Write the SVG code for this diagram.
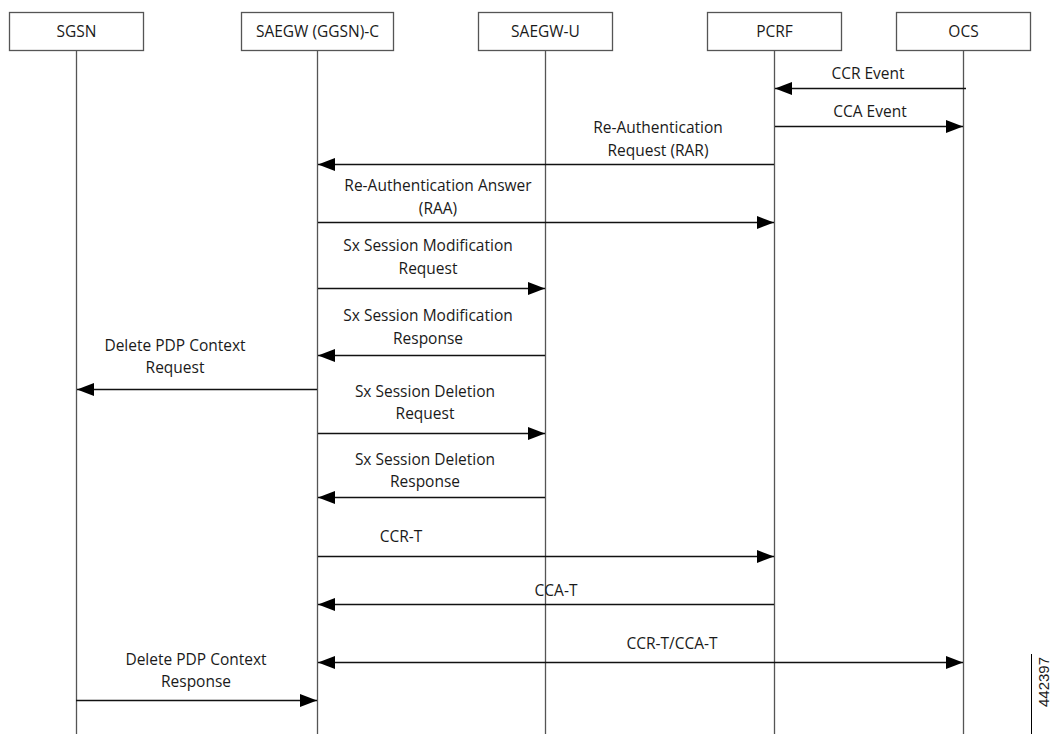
<svg xmlns="http://www.w3.org/2000/svg" width="1053" height="734" viewBox="0 0 1053 734">
<style>
.box{fill:#fff;stroke:#555;stroke-width:1.3}
.life{stroke:#555;stroke-width:1.3;fill:none}
.msg{stroke:#111;stroke-width:1.3;fill:none}
text{font-family:"Open Sans","Liberation Sans",sans-serif;font-size:15.5px;fill:#1a1a1a;text-anchor:middle}
</style>
<defs>
<marker id="ah" viewBox="0 0 17 13" refX="17" refY="6.5" markerWidth="17" markerHeight="13" markerUnits="userSpaceOnUse" orient="auto-start-reverse">
<path d="M0,0 L17,6.5 L0,13 Z" fill="#000"/>
</marker>
</defs>
<rect width="1053" height="734" fill="#fff"/>
<g id="node-sgsn"><rect class="box" x="9.5" y="12.5" width="134" height="38"/><text x="76.5" y="37">SGSN</text><line class="life" x1="76.5" y1="50.5" x2="76.5" y2="734"/></g>
<g id="node-saegwc"><rect class="box" x="241.5" y="12.5" width="152" height="38"/><text x="317.5" y="37">SAEGW (GGSN)-C</text><line class="life" x1="317.5" y1="50.5" x2="317.5" y2="734"/></g>
<g id="node-saegwu"><rect class="box" x="478.5" y="12.5" width="134" height="38"/><text x="545.5" y="37">SAEGW-U</text><line class="life" x1="545.5" y1="50.5" x2="545.5" y2="734"/></g>
<g id="node-pcrf"><rect class="box" x="707.5" y="12.5" width="134" height="38"/><text x="774.5" y="37">PCRF</text><line class="life" x1="774.5" y1="50.5" x2="774.5" y2="734"/></g>
<g id="node-ocs"><rect class="box" x="896.5" y="12.5" width="134" height="38"/><text x="963.5" y="37">OCS</text><line class="life" x1="963.5" y1="50.5" x2="963.5" y2="734"/></g>
<g id="connectors">
<line class="msg" x1="966" y1="88.5" x2="775" y2="88.5" marker-end="url(#ah)"/>
<line class="msg" x1="775" y1="126.5" x2="963" y2="126.5" marker-end="url(#ah)"/>
<line class="msg" x1="774" y1="164.5" x2="318" y2="164.5" marker-end="url(#ah)"/>
<line class="msg" x1="318" y1="222.5" x2="774" y2="222.5" marker-end="url(#ah)"/>
<line class="msg" x1="318" y1="288.5" x2="545" y2="288.5" marker-end="url(#ah)"/>
<line class="msg" x1="545" y1="355.5" x2="318" y2="355.5" marker-end="url(#ah)"/>
<line class="msg" x1="317" y1="389.5" x2="77" y2="389.5" marker-end="url(#ah)"/>
<line class="msg" x1="318" y1="433.5" x2="545" y2="433.5" marker-end="url(#ah)"/>
<line class="msg" x1="545" y1="497.5" x2="318" y2="497.5" marker-end="url(#ah)"/>
<line class="msg" x1="318" y1="556.5" x2="774" y2="556.5" marker-end="url(#ah)"/>
<line class="msg" x1="774" y1="604.5" x2="318" y2="604.5" marker-end="url(#ah)"/>
<line class="msg" x1="318" y1="662.5" x2="963" y2="662.5" marker-start="url(#ah)" marker-end="url(#ah)"/>
<line class="msg" x1="76" y1="700.5" x2="317" y2="700.5" marker-end="url(#ah)"/>
</g>
<g id="labels">
<text x="868" y="79">CCR Event</text>
<text x="870" y="117">CCA Event</text>
<text x="658" y="133">Re-Authentication</text>
<text x="658" y="156">Request (RAR)</text>
<text x="438" y="191">Re-Authentication Answer</text>
<text x="438" y="214">(RAA)</text>
<text x="428" y="251">Sx Session Modification</text>
<text x="428" y="274">Request</text>
<text x="428" y="321">Sx Session Modification</text>
<text x="428" y="344">Response</text>
<text x="175" y="351">Delete PDP Context</text>
<text x="175" y="373">Request</text>
<text x="425" y="397">Sx Session Deletion</text>
<text x="425" y="419">Request</text>
<text x="425" y="465">Sx Session Deletion</text>
<text x="425" y="487">Response</text>
<text x="401" y="542">CCR-T</text>
<text x="556" y="596">CCA-T</text>
<text x="672" y="649">CCR-T/CCA-T</text>
<text x="196" y="665">Delete PDP Context</text>
<text x="196" y="687">Response</text>
</g>
<g id="figure-id">
<line x1="1031.5" y1="654" x2="1031.5" y2="734" stroke="#000" stroke-width="1"/>
<text x="0" y="0" transform="translate(1049,682) rotate(-90)" style="font-family:'Liberation Sans',Arial,sans-serif;font-size:15px">442397</text>
</g>
</svg>
